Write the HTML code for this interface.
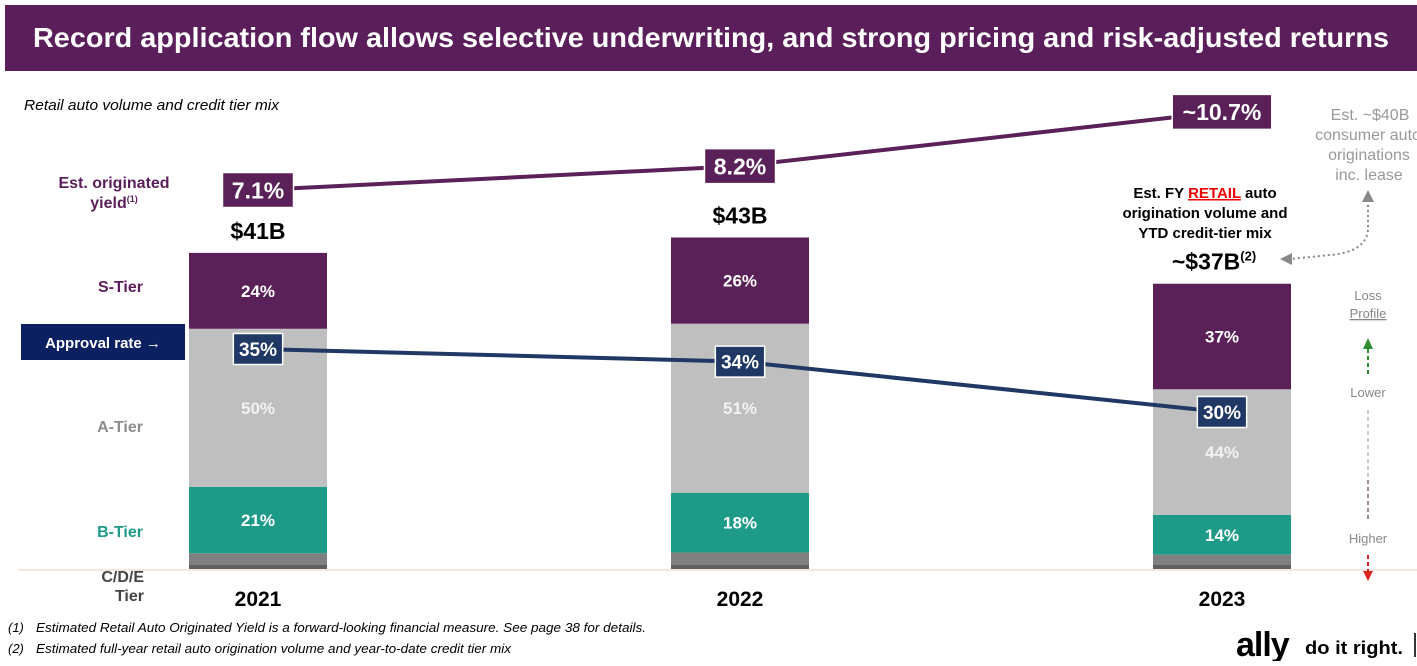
<!DOCTYPE html>
<html><head><meta charset="utf-8">
<style>
body{margin:0;width:1417px;height:661px;overflow:hidden;background:#fff;font-family:"Liberation Sans",sans-serif;}
svg text{font-family:"Liberation Sans",sans-serif;}
</style></head>
<body>
<svg id="chart" width="1417" height="661" viewBox="0 0 1417 661" xmlns="http://www.w3.org/2000/svg">
  <rect x="5" y="5" width="1412" height="66" fill="#5a1f5a"/>
  <text x="711" y="47" text-anchor="middle" fill="#fff" font-size="28" font-weight="bold" textLength="1356" lengthAdjust="spacingAndGlyphs">Record application flow allows selective underwriting, and strong pricing and risk-adjusted returns</text>
  <text x="24" y="110" font-size="15" font-style="italic" fill="#000" textLength="255" lengthAdjust="spacingAndGlyphs">Retail auto volume and credit tier mix</text>

  <text x="114" y="188" text-anchor="middle" font-size="16" font-weight="bold" fill="#5a1f5a">Est. originated</text>
  <text x="114" y="208" text-anchor="middle" font-size="16" font-weight="bold" fill="#5a1f5a">yield<tspan font-size="9" dy="-6">(1)</tspan></text>
  <text x="143" y="292" text-anchor="end" font-size="16" font-weight="bold" fill="#5a1f5a">S-Tier</text>
  <text x="143" y="432" text-anchor="end" font-size="16" font-weight="bold" fill="#8c8c8c">A-Tier</text>
  <text x="143" y="537" text-anchor="end" font-size="16" font-weight="bold" fill="#1e9a88">B-Tier</text>
  <text x="144" y="582" text-anchor="end" font-size="16" font-weight="bold" fill="#444">C/D/E</text>
  <text x="144" y="601" text-anchor="end" font-size="16" font-weight="bold" fill="#444">Tier</text>

  <rect x="21" y="324" width="164" height="36" fill="#0b2060"/>
  <text x="103" y="348" text-anchor="middle" font-size="15" font-weight="bold" fill="#fff">Approval rate →</text>

  <line x1="18" y1="570" x2="1417" y2="570" stroke="#f5e6dc" stroke-width="2"/>
  <g id="bars"></g>
  <g id="lines"></g>

  <text x="1205" y="198" text-anchor="middle" font-size="15" font-weight="bold">Est. FY <tspan fill="#e00" text-decoration="underline">RETAIL</tspan> auto</text>
  <text x="1205" y="218" text-anchor="middle" font-size="15" font-weight="bold">origination volume and</text>
  <text x="1205" y="238" text-anchor="middle" font-size="15" font-weight="bold">YTD credit-tier mix</text>

  <text x="1370" y="120" text-anchor="middle" font-size="16" fill="#999">Est. ~$40B</text>
  <text x="1368" y="140" text-anchor="middle" font-size="16" fill="#999">consumer auto</text>
  <text x="1369" y="160" text-anchor="middle" font-size="16" fill="#999">originations</text>
  <text x="1369" y="180" text-anchor="middle" font-size="16" fill="#999">inc. lease</text>
  <path d="M1368 200 L1368 230 Q1366 252 1330 255 L1290 259" fill="none" stroke="#888" stroke-width="2" stroke-dasharray="2,3"/>
  <polygon points="1362,202 1374,202 1368,190" fill="#888"/>
  <polygon points="1280,259 1292,253 1292,265" fill="#888"/>

  <text x="1368" y="300" text-anchor="middle" font-size="13" fill="#888">Loss</text>
  <text x="1368" y="318" text-anchor="middle" font-size="13" fill="#888" text-decoration="underline">Profile</text>
  <line x1="1368" y1="374" x2="1368" y2="348" stroke="#2e8b2e" stroke-width="2" stroke-dasharray="4,3"/>
  <polygon points="1363,349 1373,349 1368,338" fill="#2e8b2e"/>
  <text x="1368" y="397" text-anchor="middle" font-size="13" fill="#888">Lower</text>
  <line x1="1368" y1="410" x2="1368" y2="520" stroke="#ccc" stroke-width="2" stroke-dasharray="4,3"/>
  <line x1="1368" y1="480" x2="1368" y2="520" stroke="#a08888" stroke-width="2" stroke-dasharray="4,3"/>
  <text x="1368" y="543" text-anchor="middle" font-size="13" fill="#888">Higher</text>
  <line x1="1368" y1="555" x2="1368" y2="572" stroke="#d22" stroke-width="2" stroke-dasharray="4,3"/>
  <polygon points="1363,571 1373,571 1368,581" fill="#d22"/>

  <text x="8" y="632" font-size="13" font-style="italic">(1)</text>
  <text x="36" y="632" font-size="13" font-style="italic" textLength="610" lengthAdjust="spacingAndGlyphs">Estimated Retail Auto Originated Yield is a forward-looking financial measure. See page 38 for details.</text>
  <text x="8" y="653" font-size="13" font-style="italic">(2)</text>
  <text x="36" y="653" font-size="13" font-style="italic" textLength="475" lengthAdjust="spacingAndGlyphs">Estimated full-year retail auto origination volume and year-to-date credit tier mix</text>
  <text x="1236" y="656" font-size="34" font-weight="bold" letter-spacing="-1">ally</text>
  <text x="1305" y="654" font-size="18" font-weight="bold" textLength="98" lengthAdjust="spacingAndGlyphs">do it right.</text>
  <rect x="1414" y="633" width="2" height="24" fill="#333"/>
</svg>
<script>
const years = ["2021","2022","2023"];
const volumes = [41, 43, 37];
const volumeLabels = ["$41B","$43B","~$37B"];
const sTier = [24, 26, 37];
const aTier = [50, 51, 44];
const bTier = [21, 18, 14];
const cdeTier = [5, 5, 5];
const yieldVals = [7.1, 8.2, 10.7];
const yieldLabels = ["7.1%","8.2%","~10.7%"];
const approvalVals = [35, 34, 30];

const NS = "http://www.w3.org/2000/svg";
const baseY = 569, pxPerB = 7.71, barW = 138;
function xC(i){ return 258 + i*482; }
function hV(v){ return v*pxPerB; }
function yYield(v){ return 190 - (v-7.1)*21.7; }
function yAppr(v){ return 349 + (35-v)*12.6; }
function mk(tag, attrs, parent){
  const e = document.createElementNS(NS, tag);
  for (const k in attrs) e.setAttribute(k, attrs[k]);
  parent.appendChild(e); return e;
}
const bars = document.getElementById("bars");
const lines = document.getElementById("lines");
const segs = [
  {arr: cdeTier, fill:"#808080", name:"cde"},
  {arr: bTier, fill:"#1e9a88", name:"b-tier"},
  {arr: aTier, fill:"#bfbfbf", name:"a-tier"},
  {arr: sTier, fill:"#5a2058", name:"s-tier"}
];
years.forEach((yr,i)=>{
  const total = hV(volumes[i]);
  let y = baseY;
  segs.forEach(s=>{
    const h = total * s.arr[i] / 100;
    y -= h;
    const r = mk("rect",{x:xC(i)-barW/2,y:y,width:barW,height:h,fill:s.fill},bars);
    
    
    if (s.name !== "cde") {
      const t = mk("text",{x:xC(i),y:y+h/2+6,"text-anchor":"middle","font-size":17,"font-weight":"bold",fill:s.name==="a-tier"?"#f2f2f2":"#fff"},bars);
      t.textContent = s.arr[i] + "%";
      
      
    } else {
      const d = mk("rect",{x:xC(i)-barW/2,y:baseY-4,width:barW,height:4,fill:"#606060"},bars);
      
      
    }
  });
  const vl = mk("text",{x:i===2?xC(i)-8:xC(i),y:baseY-total-14,"text-anchor":"middle","font-size":23,"font-weight":"bold",fill:"#000"},bars);
  vl.textContent = volumeLabels[i];
  if (i===2){ const sp = mk("tspan",{"font-size":13,dy:-9},vl); sp.textContent="(2)"; }
  
  
  const yl = mk("text",{x:xC(i),y:606,"text-anchor":"middle","font-size":21,"font-weight":"bold",fill:"#000"},bars);
  yl.textContent = yr;
  
  
});
function drawLine(vals, yf, color, labels, name, fs){
  const pts = vals.map((v,i)=>xC(i)+","+yf(v)).join(" ");
  const pl = mk("polyline",{points:pts,fill:"none",stroke:color,"stroke-width":4},lines);
  
  
  vals.forEach((v,i)=>{
    const lab = labels[i];
    const w = lab.length*fs*0.62+14, h = fs+12;
    const r = mk("rect",{x:xC(i)-w/2,y:yf(v)-h/2,width:w,height:h,fill:color,stroke:"#fff","stroke-width":1.5},lines);
    
    
    const t = mk("text",{x:xC(i),y:yf(v)+fs*0.36,"text-anchor":"middle","font-size":fs,"font-weight":"bold",fill:"#fff"},lines);
    t.textContent = lab;
    
    
  });
}
drawLine(approvalVals, yAppr, "#1f3864", approvalVals.map(v=>v+"%"), "approval-rate", 19);
drawLine(yieldVals, yYield, "#5a2058", yieldLabels, "yield", 23);
</script>
</body></html>
